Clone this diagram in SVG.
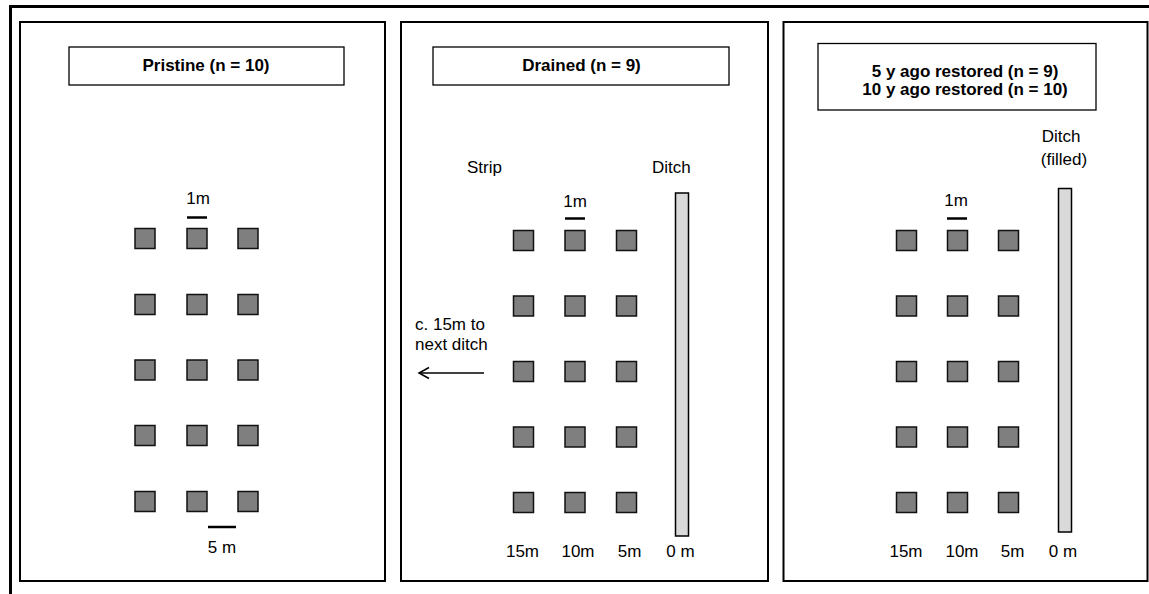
<svg xmlns="http://www.w3.org/2000/svg" width="1149" height="594" viewBox="0 0 1149 594">
<defs>
<style>
.panel{fill:#fff;stroke:#000;stroke-width:2}
.tbox{fill:#fff;stroke:#000;stroke-width:1.3}
.title{font-family:"Liberation Sans",Arial,sans-serif;font-size:17px;font-weight:bold;text-anchor:middle;fill:#000}
.lbl{font-family:"Liberation Sans",Arial,sans-serif;font-size:17px;fill:#000}
.mid{text-anchor:middle}
.sq{fill:#7f7f7f;stroke:#111;stroke-width:1.5}
.ditch{fill:#d9d9d9;stroke:#000;stroke-width:1.5}
.bar{stroke:#000;stroke-width:2.5}
.frame{stroke:#000;stroke-width:3;fill:none}
</style>
<rect id="q" class="sq" x="0" y="0" width="20" height="20"/>
<marker id="open" markerWidth="14" markerHeight="14" refX="12" refY="7" orient="auto" markerUnits="userSpaceOnUse">
<path d="M2,1.5 L12,7 L2,12.5" fill="none" stroke="#000" stroke-width="1.5"/>
</marker>
</defs>
<rect width="1149" height="594" fill="#fff"/>
<g id="frame">
<line class="frame" x1="9" y1="6.5" x2="1149" y2="6.5"/>
<line class="frame" x1="10.5" y1="5" x2="10.5" y2="594"/>
</g>

<g id="pristine">
<rect class="panel" x="20" y="22" width="365" height="559"/>
<rect class="tbox" x="69" y="47" width="275" height="38"/>
<text class="title" x="206" y="71">Pristine (n = 10)</text>
<text class="lbl mid" x="198" y="204">1m</text>
<line class="bar" x1="187" y1="217.5" x2="207" y2="217.5"/>
<g>
<use href="#q" x="135" y="228.5"/><use href="#q" x="187" y="228.5"/><use href="#q" x="238" y="228.5"/>
<use href="#q" x="135" y="294.5"/><use href="#q" x="187" y="294.5"/><use href="#q" x="238" y="294.5"/>
<use href="#q" x="135" y="360"/><use href="#q" x="187" y="360"/><use href="#q" x="238" y="360"/>
<use href="#q" x="135" y="425.5"/><use href="#q" x="187" y="425.5"/><use href="#q" x="238" y="425.5"/>
<use href="#q" x="135" y="491.5"/><use href="#q" x="187" y="491.5"/><use href="#q" x="238" y="491.5"/>
</g>
<line class="bar" x1="208" y1="527" x2="236" y2="527"/>
<text class="lbl mid" x="222" y="553">5 m</text>
</g>

<g id="drained">
<rect class="panel" x="401" y="22" width="367" height="559"/>
<rect class="tbox" x="433" y="47" width="296" height="38"/>
<text class="title" x="581.5" y="71">Drained (n = 9)</text>
<text class="lbl" x="467" y="173">Strip</text>
<text class="lbl" x="652" y="173">Ditch</text>
<text class="lbl mid" x="575" y="207">1m</text>
<line class="bar" x1="565" y1="218.5" x2="585" y2="218.5"/>
<rect class="ditch" x="675.5" y="193" width="13" height="343"/>
<g>
<use href="#q" x="513.5" y="230.5"/><use href="#q" x="565" y="230.5"/><use href="#q" x="616.5" y="230.5"/>
<use href="#q" x="513.5" y="296"/><use href="#q" x="565" y="296"/><use href="#q" x="616.5" y="296"/>
<use href="#q" x="513.5" y="361.5"/><use href="#q" x="565" y="361.5"/><use href="#q" x="616.5" y="361.5"/>
<use href="#q" x="513.5" y="427"/><use href="#q" x="565" y="427"/><use href="#q" x="616.5" y="427"/>
<use href="#q" x="513.5" y="492.5"/><use href="#q" x="565" y="492.5"/><use href="#q" x="616.5" y="492.5"/>
</g>
<text class="lbl" x="415" y="330">c. 15m to</text>
<text class="lbl" x="415" y="350">next ditch</text>
<text class="lbl mid" x="522.5" y="557">15m</text>
<text class="lbl mid" x="578" y="557">10m</text>
<text class="lbl mid" x="629.5" y="557">5m</text>
<text class="lbl mid" x="680.5" y="557">0 m</text>
</g>

<g id="restored">
<rect class="panel" x="783.5" y="22" width="364" height="559"/>
<rect class="tbox" x="818" y="43.5" width="278" height="66.5"/>
<text class="title" x="965" y="76.5">5 y ago restored (n = 9)</text>
<text class="title" x="965" y="94.5">10 y ago restored (n = 10)</text>
<text class="lbl mid" x="1061" y="141.5">Ditch</text>
<text class="lbl mid" x="1064" y="164.5">(filled)</text>
<text class="lbl mid" x="956" y="206">1m</text>
<line class="bar" x1="947" y1="218.5" x2="967" y2="218.5"/>
<rect class="ditch" x="1058.5" y="188.5" width="13" height="343.5"/>
<g>
<use href="#q" x="896.5" y="230.5"/><use href="#q" x="947.5" y="230.5"/><use href="#q" x="998.5" y="230.5"/>
<use href="#q" x="896.5" y="296"/><use href="#q" x="947.5" y="296"/><use href="#q" x="998.5" y="296"/>
<use href="#q" x="896.5" y="361.5"/><use href="#q" x="947.5" y="361.5"/><use href="#q" x="998.5" y="361.5"/>
<use href="#q" x="896.5" y="427"/><use href="#q" x="947.5" y="427"/><use href="#q" x="998.5" y="427"/>
<use href="#q" x="896.5" y="492.5"/><use href="#q" x="947.5" y="492.5"/><use href="#q" x="998.5" y="492.5"/>
</g>
<text class="lbl mid" x="906" y="557">15m</text>
<text class="lbl mid" x="962" y="557">10m</text>
<text class="lbl mid" x="1012.5" y="557">5m</text>
<text class="lbl mid" x="1063" y="557">0 m</text>
</g>

<g id="connectors">
<line x1="484" y1="373" x2="419" y2="373" stroke="#000" stroke-width="1.5" marker-end="url(#open)"/>
</g>
</svg>
